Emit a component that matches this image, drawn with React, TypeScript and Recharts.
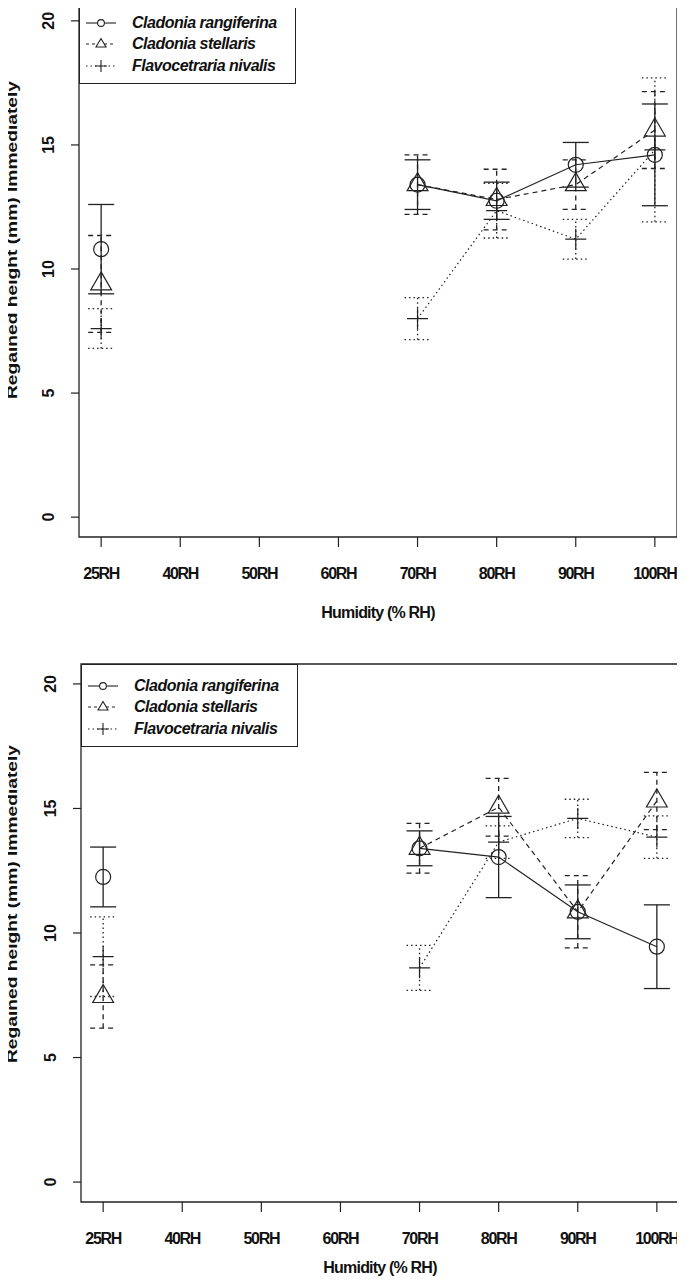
import React from "react";
import { ComposedChart, Line, XAxis, YAxis, ErrorBar, ReferenceArea, Legend, Label } from "recharts";

const humidityLevels = ["25RH", "40RH", "50RH", "60RH", "70RH", "80RH", "90RH", "100RH"];
const yTicks = [0, 5, 10, 15, 20];
const xTicks = [1, 2, 3, 4, 5, 6, 7, 8];

// upper panel
const rangiferinaTop = [10.8, null, null, null, 13.4, 12.75, 14.2, 14.6];
const rangiferinaTopErr = [1.8, null, null, null, 1.0, 0.75, 0.9, 2.05];
const stellarisTop = [9.4, null, null, null, 13.4, 12.8, 13.4, 15.6];
const stellarisTopErr = [1.95, null, null, null, 1.2, 1.22, 1.0, 1.55];
const nivalisTop = [7.6, null, null, null, 8.0, 12.35, 11.2, 14.8];
const nivalisTopErr = [0.8, null, null, null, 0.85, 1.1, 0.8, 2.9];

// lower panel
const rangiferinaBottom = [12.25, null, null, null, 13.4, 13.05, 10.85, 9.45];
const rangiferinaBottomErr = [1.2, null, null, null, 0.7, 1.63, 1.08, 1.68];
const stellarisBottom = [7.45, null, null, null, 13.4, 15.05, 10.85, 15.3];
const stellarisBottomErr = [1.27, null, null, null, 1.0, 1.16, 1.45, 1.15];
const nivalisBottom = [9.05, null, null, null, 8.6, 13.65, 14.6, 13.85];
const nivalisBottomErr = [1.6, null, null, null, 0.9, 0.65, 0.77, 0.85];

const species = ["Cladonia rangiferina", "Cladonia stellaris", "Flavocetraria nivalis"];

const INK = "#222";
const FONT = "'Liberation Sans', Arial, sans-serif";
const DASH = "5 4";
const DOT = "1.5 3";

type Vals = (number | null)[];

function buildRows(r: Vals, rErr: Vals, s: Vals, sErr: Vals, n: Vals, nErr: Vals) {
  return humidityLevels.map((label, i) => ({
    pos: i + 1,
    label,
    rangiferina: r[i],
    rangiferinaErr: rErr[i],
    stellaris: s[i],
    stellarisErr: sErr[i],
    nivalis: n[i],
    nivalisErr: nErr[i],
  }));
}

const circleDot = (p: any) => {
  if (p.cx == null || p.cy == null) return <g key={p.index} />;
  return <circle key={p.index} cx={p.cx} cy={p.cy} r={7.5} fill="none" stroke={INK} strokeWidth={1.2} />;
};

const triangleDot = (p: any) => {
  if (p.cx == null || p.cy == null) return <g key={p.index} />;
  const { cx, cy } = p;
  return (
    <path
      key={p.index}
      d={`M${cx},${cy - 12} L${cx + 10.4},${cy + 6} L${cx - 10.4},${cy + 6} Z`}
      fill="none"
      stroke={INK}
      strokeWidth={1.2}
    />
  );
};

const plusDot = (p: any) => {
  if (p.cx == null || p.cy == null) return <g key={p.index} />;
  const { cx, cy } = p;
  return (
    <path
      key={p.index}
      d={`M${cx - 10.5},${cy} H${cx + 10.5} M${cx},${cy - 10.5} V${cy + 10.5}`}
      stroke={INK}
      strokeWidth={1.2}
    />
  );
};

const XTick = (p: any) => (
  <text x={p.x} y={p.y + 32} textAnchor="middle" fontFamily={FONT} fontSize={16} fontWeight="bold" letterSpacing={-1.3} fill="#111">
    {humidityLevels[p.payload.value - 1]}
  </text>
);

const YTick = (p: any) => (
  <text
    x={p.x - 15}
    y={p.y}
    transform={`rotate(-90 ${p.x - 15} ${p.y})`}
    textAnchor="middle"
    fontFamily={FONT}
    fontSize={16}
    fontWeight="bold"
    fill="#111"
  >
    {p.payload.value}
  </text>
);

const makeXTitle = (drop: number) => (p: any) => {
  const vb = p.viewBox;
  return (
    <text x={vb.x + vb.width / 2} y={vb.y + drop} textAnchor="middle" fontFamily={FONT} fontSize={16} fontWeight="bold" letterSpacing={-0.8} fill="#111">
      Humidity (% RH)
    </text>
  );
};

const YTitle = (p: any) => {
  const vb = p.viewBox;
  const cy = vb.y + vb.height / 2 - 29;
  return (
    <text
      x={17}
      y={cy}
      transform={`rotate(-90 17 ${cy})`}
      textAnchor="middle"
      fontFamily={FONT}
      fontSize={15}
      fontWeight="bold"
      textLength={318}
      lengthAdjust="spacingAndGlyphs"
      fill="#111"
    >
      Regained height (mm) Immediately
    </text>
  );
};

function LegendMark({ kind }: { kind: number }) {
  const dash = kind === 0 ? undefined : kind === 1 ? "3 3" : DOT;
  return (
    <svg width={34} height={20} style={{ display: "block" }}>
      <line x1={2} y1={10} x2={32} y2={10} stroke={INK} strokeWidth={1.1} strokeDasharray={dash} />
      {kind === 0 && <circle cx={17} cy={10} r={3.4} fill="#fff" stroke={INK} strokeWidth={1.1} />}
      {kind === 1 && <path d="M17,4.5 L22,13 L12,13 Z" fill="#fff" stroke={INK} strokeWidth={1.1} />}
      {kind === 2 && <path d="M11,10 H23 M17,4 V16" stroke={INK} strokeWidth={1.1} />}
    </svg>
  );
}

const LegendBox = () => (
  <div
    style={{
      boxSizing: "border-box",
      width: 217,
      height: 83,
      border: `1.3px solid ${INK}`,
      background: "#fff",
      paddingTop: 10,
      fontFamily: FONT,
    }}
  >
    {species.map((name, i) => (
      <div key={name} style={{ display: "flex", alignItems: "center", height: 21.5, paddingLeft: 4 }}>
        <LegendMark kind={i} />
        <span
          style={{
            marginLeft: 14,
            fontStyle: "italic",
            fontWeight: "bold",
            fontSize: 16,
            letterSpacing: -0.5,
            color: "#111",
            lineHeight: "20px",
            whiteSpace: "nowrap",
          }}
        >
          {name}
        </span>
      </div>
    ))}
  </div>
);

type PanelProps = {
  rows: ReturnType<typeof buildRows>;
  height: number;
  top: number;
  bottom: number;
  axisWidth: number;
  right: number;
  legendTop: number;
  titleDrop: number;
};

function Panel({ rows, height, top, bottom, axisWidth, right, legendTop, titleDrop }: PanelProps) {
  return (
    <ComposedChart width={685} height={height} data={rows} margin={{ top, right, bottom, left: 0 }} style={{ display: "block" }}>
      <XAxis
        dataKey="pos"
        type="number"
        domain={[0.72, 8.28]}
        ticks={xTicks}
        allowDataOverflow
        height={80}
        axisLine={false}
        tickLine={{ stroke: INK, strokeWidth: 1.2 }}
        tickSize={10}
        tickMargin={0}
        tick={XTick}
        interval={0}
      >
        <Label content={makeXTitle(titleDrop)} />
      </XAxis>
      <YAxis
        type="number"
        domain={[-0.8, 20.8]}
        ticks={yTicks}
        allowDataOverflow
        width={axisWidth}
        axisLine={false}
        tickLine={{ stroke: INK, strokeWidth: 1.2 }}
        tickSize={8}
        tickMargin={2}
        tick={YTick}
        interval={0}
      >
        <Label content={YTitle} />
      </YAxis>
      <ReferenceArea x1={0.72} x2={8.28} y1={-0.8} y2={20.8} fill="none" stroke={INK} strokeWidth={1.3} />
      <Line
        dataKey="rangiferina"
        type="linear"
        stroke={INK}
        strokeWidth={1.2}
        dot={circleDot}
        activeDot={false}
        isAnimationActive={false}
      >
        <ErrorBar dataKey="rangiferinaErr" direction="y" width={13} stroke={INK} strokeWidth={1.3} />
      </Line>
      <Line
        dataKey="stellaris"
        type="linear"
        stroke={INK}
        strokeWidth={1.2}
        strokeDasharray={DASH}
        dot={triangleDot}
        activeDot={false}
        isAnimationActive={false}
      >
        <ErrorBar dataKey="stellarisErr" direction="y" width={13} stroke={INK} strokeWidth={1.3} strokeDasharray={DASH} />
      </Line>
      <Line
        dataKey="nivalis"
        type="linear"
        stroke={INK}
        strokeWidth={1.2}
        strokeDasharray={DOT}
        dot={plusDot}
        activeDot={false}
        isAnimationActive={false}
      >
        <ErrorBar dataKey="nivalisErr" direction="y" width={13} stroke={INK} strokeWidth={1.3} strokeDasharray={DOT} />
      </Line>
      <Legend
        layout="horizontal"
        verticalAlign="middle"
        align="center"
        wrapperStyle={{ top: legendTop, left: axisWidth, width: 217, height: 83 }}
        content={LegendBox}
      />
    </ComposedChart>
  );
}

export default function App() {
  const upper = buildRows(rangiferinaTop, rangiferinaTopErr, stellarisTop, stellarisTopErr, nivalisTop, nivalisTopErr);
  const lower = buildRows(
    rangiferinaBottom,
    rangiferinaBottomErr,
    stellarisBottom,
    stellarisBottomErr,
    nivalisBottom,
    nivalisBottomErr
  );
  return (
    <div style={{ position: "relative", width: 685, height: 1285, margin: -8, background: "#fff" }}>
      <Panel rows={upper} height={643} top={1} bottom={26} axisWidth={79} right={8} legendTop={1} titleDrop={81} />
      <Panel rows={lower} height={642} top={21} bottom={3} axisWidth={81} right={6} legendTop={21} titleDrop={71} />
    </div>
  );
}
